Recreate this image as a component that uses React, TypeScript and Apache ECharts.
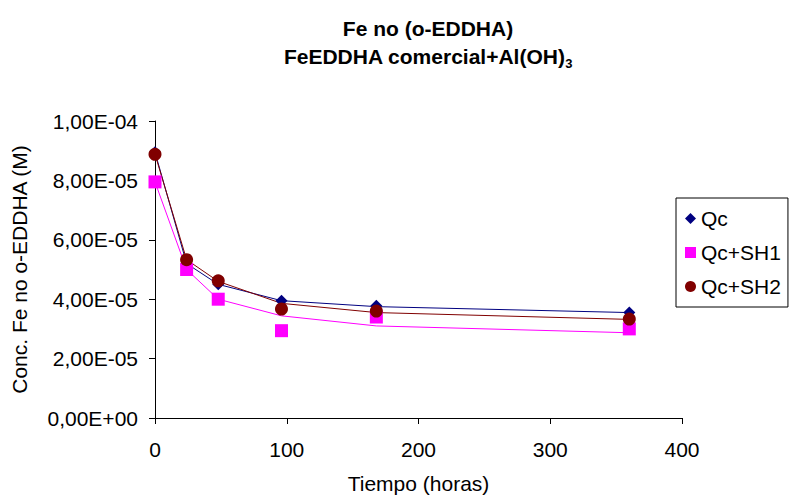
import React, { useEffect, useRef } from "react";
import * as echarts from "echarts";

const times = [0, 24, 48, 96, 168, 360];
const qcPoints = [8.95e-5, 5.2e-5, 4.5e-5, 3.95e-5, 3.78e-5, 3.55e-5];
const sh1Points = [7.95e-5, 5.0e-5, 4.0e-5, 2.94e-5, 3.4e-5, 3.0e-5];
const sh2Points = [8.88e-5, 5.33e-5, 4.62e-5, 3.67e-5, 3.6e-5, 3.33e-5];
const qcFit = [8.95e-5, 5.2e-5, 4.5e-5, 3.95e-5, 3.75e-5, 3.55e-5];
const sh1Fit = [7.95e-5, 5.0e-5, 4.0e-5, 3.44e-5, 3.1e-5, 2.87e-5];
const sh2Fit = [8.88e-5, 5.33e-5, 4.6e-5, 3.86e-5, 3.55e-5, 3.32e-5];
const seriesNames = ["Qc", "Qc+SH1", "Qc+SH2"];
const colors = ["#000080", "#FF00FF", "#800000"];

function fmtSci(v: number): string {
  if (v === 0) return "0,00E+00";
  const e = Math.floor(Math.log10(Math.abs(v)) + 1e-9);
  const m = v / Math.pow(10, e);
  const sign = e < 0 ? "-" : "+";
  const ae = Math.abs(e);
  return m.toFixed(2).replace(".", ",") + "E" + sign + (ae < 10 ? "0" : "") + ae;
}

const pairs = (ys: number[]) => times.map((t, i) => [t, ys[i]]);

export default function App() {
  const ref = useRef<HTMLDivElement>(null);
  useEffect(() => {
    if (!ref.current) return;
    const chart = echarts.init(ref.current, undefined, { renderer: "svg" });
    const font = "'Liberation Sans', Arial, sans-serif";
    chart.setOption({
      animation: false,
      textStyle: { fontFamily: font },
      title: {
        text: "{a|Fe no (o-EDDHA)}\n{a|FeEDDHA comercial+Al(OH)}{s|3}",
        left: 423,
        top: 9,
        textAlign: "center",
        textStyle: {
          rich: {
            a: { fontSize: 21, fontWeight: "bold", color: "#000", fontFamily: font, lineHeight: 28 },
            s: { fontSize: 13, fontWeight: "bold", color: "#000", fontFamily: font, verticalAlign: "bottom", lineHeight: 22 },
          },
        },
      },
      legend: {
        orient: "vertical",
        left: 676,
        top: 198,
        padding: [10, 7, 10, 9],
        itemGap: 13,
        itemWidth: 11,
        itemHeight: 11,
        borderColor: "#000",
        borderWidth: 1,
        borderRadius: 0,
        textStyle: { fontSize: 21, color: "#000", fontFamily: font },
        data: [
          { name: "Qc", icon: "diamond" },
          { name: "Qc+SH1", icon: "rect" },
          { name: "Qc+SH2", icon: "circle" },
        ],
      },
      grid: { left: 155, right: 109, top: 121, bottom: 79, containLabel: false, outerBoundsMode: "none" },
      xAxis: {
        type: "value",
        min: 0,
        max: 400,
        interval: 100,
        name: "Tiempo (horas)",
        nameLocation: "middle",
        nameGap: 55,
        nameTextStyle: { fontSize: 21, color: "#000", fontFamily: font },
        axisLine: { show: true, onZero: false, lineStyle: { color: "#000", width: 1 } },
        axisTick: { show: true, inside: false, length: 6, lineStyle: { color: "#000" } },
        axisLabel: { fontSize: 21, color: "#000", margin: 21, fontFamily: font },
        splitLine: { show: false },
      },
      yAxis: {
        type: "value",
        min: 0,
        max: 1e-4,
        interval: 2e-5,
        name: "Conc. Fe no o-EDDHA (M)",
        nameLocation: "middle",
        nameGap: 125,
        nameRotate: 90,
        nameTextStyle: { fontSize: 21, color: "#000", fontFamily: font },
        axisLine: { show: true, lineStyle: { color: "#000", width: 1 } },
        axisTick: { show: true, inside: false, length: 6, lineStyle: { color: "#000" } },
        axisLabel: { fontSize: 21, color: "#000", margin: 17, fontFamily: font, formatter: (v: number) => fmtSci(v) },
        splitLine: { show: false },
      },
      series: [
        { type: "line", name: "fitQc", data: pairs(qcFit), showSymbol: false, symbol: "none", lineStyle: { color: colors[0], width: 1 }, silent: true, z: 1 },
        { type: "line", name: "fitSH1", data: pairs(sh1Fit), showSymbol: false, symbol: "none", lineStyle: { color: colors[1], width: 1 }, silent: true, z: 1 },
        { type: "line", name: "fitSH2", data: pairs(sh2Fit), showSymbol: false, symbol: "none", lineStyle: { color: colors[2], width: 1 }, silent: true, z: 1 },
        { type: "scatter", name: seriesNames[0], data: pairs(qcPoints), symbol: "diamond", symbolSize: 12, itemStyle: { color: colors[0], opacity: 1 }, z: 3 },
        { type: "scatter", name: seriesNames[1], data: pairs(sh1Points), symbol: "rect", symbolSize: 13, itemStyle: { color: colors[1], opacity: 1 }, z: 4 },
        { type: "scatter", name: seriesNames[2], data: pairs(sh2Points), symbol: "circle", symbolSize: 13, itemStyle: { color: colors[2], opacity: 1 }, z: 5 },
      ],
    });
    return () => chart.dispose();
  }, []);
  return <div ref={ref} style={{ width: 791, height: 497, position: "absolute", left: 0, top: 0 }} />;
}
